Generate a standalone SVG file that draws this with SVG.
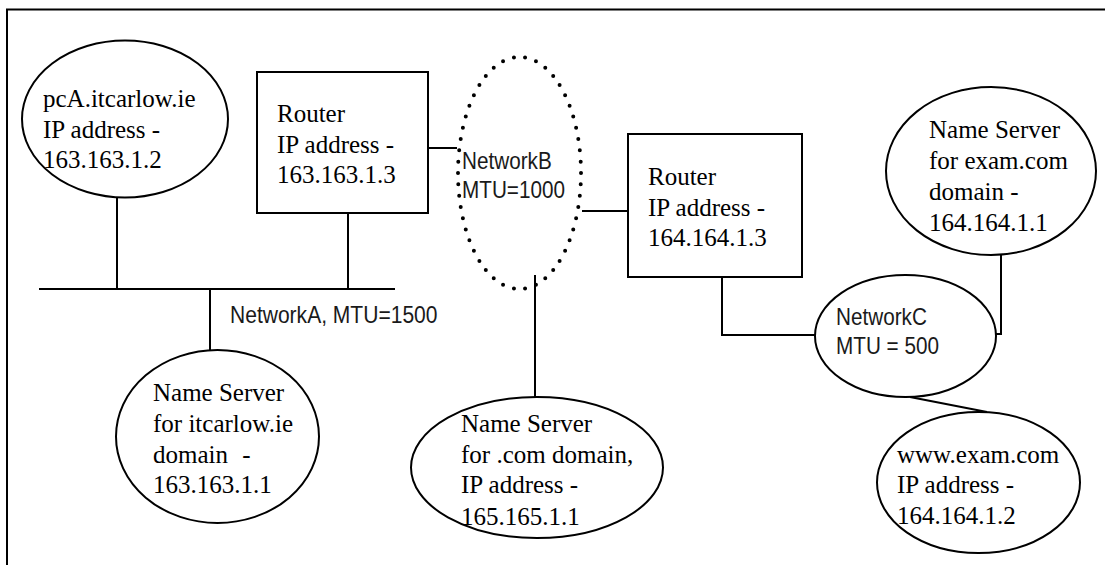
<svg xmlns="http://www.w3.org/2000/svg" width="1105" height="565" viewBox="0 0 1105 565">
<style>
.ln{fill:none;stroke:#000;stroke-width:2}
.sh{fill:#fff;stroke:#000;stroke-width:2}
.dot{fill:none;stroke:#000;stroke-width:4;stroke-linecap:round;stroke-dasharray:0 11.4}
.serif{font-family:"Liberation Serif","Times New Roman",serif;font-size:25px;fill:#000}
.sans{font-family:"Liberation Sans",Arial,sans-serif;font-size:23px;fill:#1a1a1a}
</style>
<rect width="1105" height="565" fill="#fff"/>
<path class="ln" d="M7 565 V9.5 H1105"/>
<g id="connectors">
<path class="ln" d="M39 289 H395"/>
<path class="ln" d="M117 197 V289"/>
<path class="ln" d="M348 213 V289"/>
<path class="ln" d="M210 289 V350"/>
<path class="ln" d="M428 148 H457"/>
<path class="ln" d="M582 211 H628"/>
<path class="ln" d="M535 275 V397"/>
<path class="ln" d="M722 277 V335 H815"/>
<path class="ln" d="M996 334 H1001 V255"/>
<path class="ln" d="M910 397 L987 412"/>
</g>
<g id="pcA">
<ellipse class="sh" cx="125" cy="119" rx="103" ry="78.5"/>
<text class="serif" x="43" y="107">pcA.itcarlow.ie<tspan x="43" y="138">IP address -</tspan><tspan x="43" y="168">163.163.1.2</tspan></text>
</g>
<g id="router1">
<rect class="sh" x="257" y="72" width="171" height="141"/>
<text class="serif" x="277" y="122">Router<tspan x="277" y="153">IP address -</tspan><tspan x="277" y="183">163.163.1.3</tspan></text>
</g>
<g id="networkA">
<text class="sans" transform="translate(230 323) scale(0.915 1)">NetworkA, MTU=1500</text>
</g>
<g id="networkB">
<ellipse class="dot" cx="519.5" cy="173" rx="61.5" ry="116" pathLength="570"/>
<text class="sans" transform="translate(462 169) scale(0.9 1)">NetworkB<tspan x="0" y="29">MTU=1000</tspan></text>
</g>
<g id="router2">
<rect class="sh" x="628" y="134" width="174" height="143"/>
<text class="serif" x="648" y="185">Router<tspan x="648" y="216">IP address -</tspan><tspan x="648" y="246">164.164.1.3</tspan></text>
</g>
<g id="nsItcarlow">
<ellipse class="sh" cx="217.5" cy="436.5" rx="101.5" ry="86.5"/>
<text class="serif" x="153" y="401">Name Server<tspan x="153" y="432">for itcarlow.ie</tspan><tspan x="153" y="463">domain <tspan dx="8">-</tspan></tspan><tspan x="153" y="493">163.163.1.1</tspan></text>
</g>
<g id="nsCom">
<ellipse class="sh" cx="537" cy="467.5" rx="126" ry="70.5"/>
<text class="serif" x="461" y="432">Name Server<tspan x="461" y="463">for .com domain,</tspan><tspan x="461" y="493">IP address -</tspan><tspan x="461" y="525">165.165.1.1</tspan></text>
</g>
<g id="networkC">
<ellipse class="sh" cx="905.5" cy="336" rx="90.5" ry="61"/>
<text class="sans" transform="translate(836 325) scale(0.9 1)">NetworkC<tspan x="0" y="29">MTU = 500</tspan></text>
</g>
<g id="nsExam">
<ellipse class="sh" cx="991" cy="171" rx="105" ry="84"/>
<text class="serif" x="929" y="138">Name Server<tspan x="929" y="169">for exam.com</tspan><tspan x="929" y="200">domain -</tspan><tspan x="929" y="231">164.164.1.1</tspan></text>
</g>
<g id="wwwExam">
<ellipse class="sh" cx="978.5" cy="482.5" rx="101.5" ry="70.5"/>
<text class="serif" x="897" y="463">www.exam.com<tspan x="897" y="493">IP address -</tspan><tspan x="897" y="524">164.164.1.2</tspan></text>
</g>
</svg>
